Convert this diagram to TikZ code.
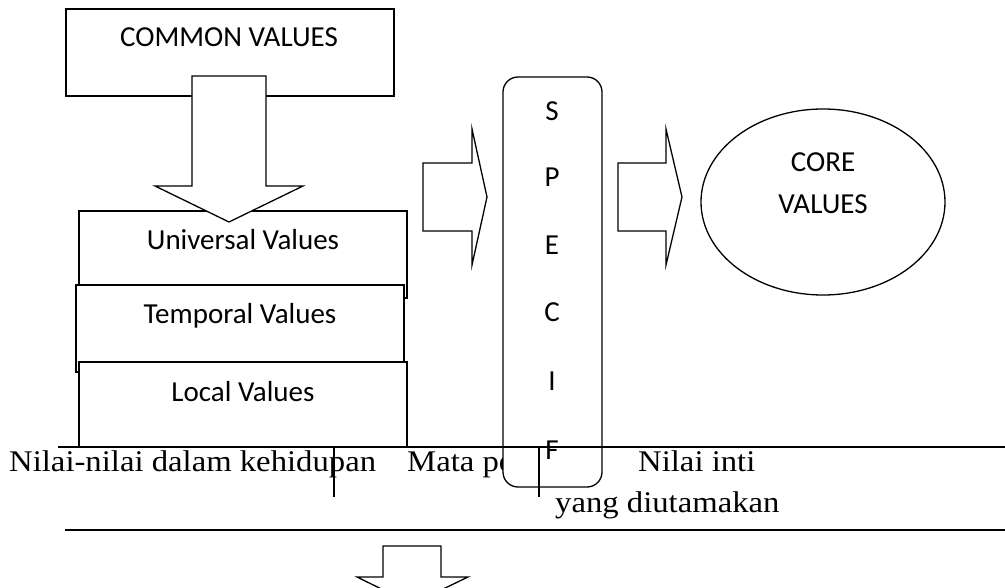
\documentclass[tikz,border=0pt]{standalone}
\usepackage{fontspec}
\setmainfont{Carlito}
\newfontfamily\serifpal[FakeStretch=1.09]{Liberation Serif}
\begin{document}
\begin{tikzpicture}[x=1pt,y=-1pt,
  shape line/.style={draw=black,line width=1.3pt,fill=white},
  boxtext/.style={inner sep=0pt,anchor=base,font=\fontsize{29}{35}\selectfont},
  sertext/.style={inner sep=0pt,anchor=base west,font=\serifpal\fontsize{30}{36}\selectfont},
  rule line/.style={draw=black,line width=1.3pt}]
\path[use as bounding box] (0,0) rectangle (1005,588);
\clip (0,0) rectangle (1005,588);
% common values box
\draw[shape line] (66,9) rectangle (394,96);
\node[boxtext] (common) at (229,47) {COMMON VALUES};
% stacked boxes
\draw[shape line] (79,211) rectangle (407,298);
\node[boxtext] (univ) at (243,250) {Universal Values};
\draw[shape line] (76,285) rectangle (404,372);
\node[boxtext] (temp) at (240,324) {Temporal Values};
\draw[shape line] (79,362) rectangle (407,447);
\node[boxtext] (local) at (243,401) {Local Values};
% down arrow
\draw[shape line,line join=miter] (192,76) -- (266,76) -- (266,186) -- (303,186) -- (229,222) -- (155,186) -- (192,186) -- cycle;
% right arrows
\draw[shape line,line join=miter] (423,163) -- (472,163) -- (472,129) -- (487,197) -- (472,265) -- (472,231) -- (423,231) -- cycle;
\draw[shape line,line join=miter] (618,163) -- (666,163) -- (666,129) -- (682,197) -- (666,265) -- (666,231) -- (618,231) -- cycle;
% core values ellipse
\draw[shape line] (823,202) ellipse [x radius=122, y radius=93];
\node[boxtext] (core1) at (823,172) {CORE};
\node[boxtext] (core2) at (823,214) {VALUES};
% table texts
\node[sertext] (t1) at (9,471) {Nilai-nilai dalam kehidupan};
\node[sertext] (t2) at (407,471) {Mata pe};
\node[sertext] (t3) at (638,471) {Nilai inti};
\node[sertext] (t4) at (555,512) {yang diutamakan};
% specif box
\draw[shape line,rounded corners=15pt] (503,77) rectangle (602,487);
\node[boxtext] (s1) at (552,121) {S};
\node[boxtext] (s2) at (552,187) {P};
\node[boxtext] (s3) at (552,255) {E};
\node[boxtext] (s4) at (552,322) {C};
\node[boxtext] (s5) at (552,391) {I};
\node[boxtext] (s6) at (552,459) {F};
% table rules
\draw[rule line] (58,447) -- (1005,447);
\draw[rule line] (65,530) -- (1005,530);
\draw[rule line] (334,447) -- (334,497);
\draw[rule line] (539,447) -- (539,497);
% bottom down arrow
\draw[shape line,line join=miter] (383,546) -- (441,546) -- (441,577) -- (468,577) -- (412,604) -- (357,577) -- (383,577) -- cycle;
\end{tikzpicture}
\end{document}
